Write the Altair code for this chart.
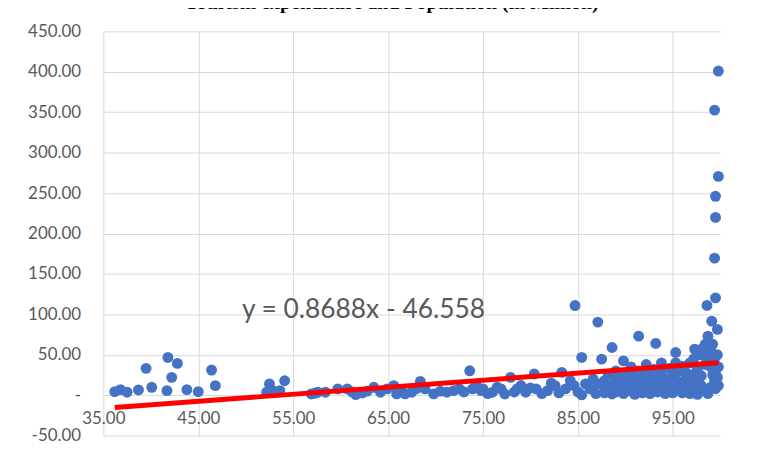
import altair as alt
import pandas as pd

# ---- data ----
title_text = "Tourism expenditure and Population (in Million)"
equation_text = "y = 0.8688x - 46.558"
slope = 0.8688
intercept = -46.558

x_ticks = [35, 45, 55, 65, 75, 85, 95]
y_ticks = [-50, 0, 50, 100, 150, 200, 250, 300, 350, 400, 450]

points_low = [(36.2, 4.4), (36.8, 6.9), (37.5, 3.7), (38.7, 6.5), (39.5, 33.2), (40.1, 9.8),
              (41.7, 5.6), (41.8, 46.7), (42.2, 22.1), (42.8, 39.3), (43.8, 6.9), (45.0, 4.4),
              (46.4, 31.1), (46.8, 11.8), (52.2, 3.7), (52.5, 13.9), (52.8, 6.0), (53.6, 5.6),
              (54.1, 17.9)]

points_mid = [(56.9, 1.5), (57.3, 2.5), (57.6, 3.7), (58.4, 3.7), (59.7, 7.8), (60.7, 7.8),
              (61.2, 4.0), (61.6, 0.8), (62.3, 2.8), (62.8, 5.0), (63.5, 9.8), (64.2, 3.7),
              (64.9, 7.8), (65.6, 11.8), (65.9, 1.6), (66.4, 5.0), (66.8, 1.6), (67.5, 3.7),
              (68.0, 8.0), (68.4, 17.0), (68.9, 7.8), (69.8, 1.6), (70.5, 5.0), (71.2, 3.7),
              (71.9, 5.6), (72.5, 7.8), (73.0, 4.0), (73.6, 30.2), (73.9, 7.8), (74.3, 12.0),
              (74.8, 5.6)]

points_upper = [(75.0, 7.8), (75.5, 2.0), (76.0, 3.7), (76.5, 10.0), (76.9, 7.8), (77.3, 1.5),
                (77.9, 22.1), (78.3, 4.0), (78.6, 7.8), (79.0, 12.0), (79.5, 3.7), (80.0, 9.0),
                (80.4, 26.2), (80.6, 7.8), (81.2, 2.0), (81.8, 5.6), (82.2, 15.0), (82.6, 11.8),
                (83.0, 3.0), (83.3, 28.3), (83.7, 7.8), (84.2, 18.0), (84.6, 11.8), (84.7, 110.9),
                (85.0, 4.0), (85.4, 0.5), (85.4, 46.7), (85.8, 14.0), (86.3, 7.8), (86.6, 20.0),
                (86.9, 2.0), (87.1, 90.4), (87.2, 13.9), (87.5, 44.6)]

points_top = [(87.8, 3), (87.8, 18), (87.9, 9), (88.2, 25), (88.2, 6), (88.6, 59), (88.6, 12),
              (88.6, 1.5), (89.0, 20), (89.0, 4), (89.0, 30), (89.4, 8), (89.4, 14), (89.8, 42.5),
              (89.8, 2), (89.8, 22), (90.2, 10), (90.2, 28), (90.6, 5), (90.6, 16), (90.6, 35),
              (91.0, 1), (91.0, 12), (91.0, 24), (91.4, 73), (91.4, 7), (91.4, 30), (91.8, 3),
              (91.8, 18), (92.2, 10), (92.2, 26), (92.2, 38), (92.6, 2), (92.6, 14), (93.0, 8),
              (93.0, 22), (93.0, 32), (93.2, 64), (93.4, 4), (93.4, 16), (93.8, 11), (93.8, 28),
              (93.8, 40), (94.2, 2), (94.2, 20), (94.2, 6), (94.6, 14), (94.6, 33), (94.6, 9),
              (95.0, 3), (95.0, 24), (95.3, 52.8), (95.3, 40), (95.6, 8), (95.6, 17), (95.6, 30),
              (96.0, 12), (96.0, 36), (96.0, 3), (96.4, 22), (96.4, 6), (96.4, 28), (96.8, 15),
              (96.8, 40), (96.8, 2), (97.2, 9), (97.2, 26), (97.2, 45), (97.3, 57), (97.6, 18),
              (97.6, 33), (97.6, 4), (97.6, 1), (98.0, 12), (98.0, 50), (98.0, 24), (98.0, 57),
              (98.4, 63), (98.4, 38), (98.4, 6), (98.6, 111), (98.7, 73), (98.7, 45), (98.7, 2),
              (99.0, 10), (99.0, 35), (99.0, 55), (99.1, 91.6), (99.2, 63), (99.2, 25), (99.2, 48),
              (99.4, 169.5), (99.4, 352.6), (99.4, 18), (99.4, 40), (99.5, 120.4), (99.5, 219.9),
              (99.5, 246), (99.5, 30), (99.5, 8), (99.7, 81.4), (99.7, 50), (99.7, 22),
              (99.8, 400.9), (99.8, 270.6), (99.8, 35), (99.8, 12)]

all_points = points_low + points_mid + points_upper + points_top
df = pd.DataFrame(all_points, columns=["population", "expenditure"])

x_min = df["population"].min()
x_max = df["population"].max()
trend = pd.DataFrame({
    "population": [x_min, x_max],
    "expenditure": [slope * x_min + intercept, slope * x_max + intercept],
})
label_df = pd.DataFrame({"population": [62.4], "expenditure": [104.8], "text": [equation_text]})

x_scale = alt.Scale(domain=[35, 100], nice=False, zero=False)
y_scale = alt.Scale(domain=[-50, 450], nice=False)

x_enc = alt.X("population:Q", scale=x_scale,
              axis=alt.Axis(values=x_ticks, format=".2f", title=None, domain=False, ticks=False,
                            offset=-41, labelPadding=16, grid=True, labelFlush=False))
y_enc = alt.Y("expenditure:Q", scale=y_scale,
              axis=alt.Axis(values=y_ticks, title=None, domain=False, ticks=False, labelPadding=23,
                            labelFlush=False,
                            labelExpr="datum.value == 0 ? '-' : (datum.value < 0 ? '-' + format(-datum.value, '.2f') : format(datum.value, '.2f'))"))

pts = alt.Chart(df).mark_circle(size=120, color="#4472C4", opacity=1).encode(x=x_enc, y=y_enc)

line = alt.Chart(trend).mark_line(color="#FF0000", strokeWidth=5).encode(
    x="population:Q", y="expenditure:Q")

txt = alt.Chart(label_df).mark_text(font="Lato", fontSize=26.5, color="#595959").encode(
    x="population:Q", y="expenditure:Q", text="text:N")

chart = alt.layer(pts, line, txt).properties(
    width=621, height=407,
    title=alt.TitleParams(text=title_text, font="Liberation Serif", fontSize=20, fontWeight="bold",
                          color="#000000", anchor="middle", dx=-20, offset=9),
    autosize=alt.AutoSizeParams(type="none"),
    padding={"left": 96, "top": 22, "right": 40, "bottom": 18},
).configure_view(stroke=None).configure_axis(
    gridColor="#d9d9d9", gridWidth=1, labelColor="#595959", labelFont="Lato", labelFontSize=17
)

chart.save("out.html", embed_options={"renderer": "svg", "actions": False})
